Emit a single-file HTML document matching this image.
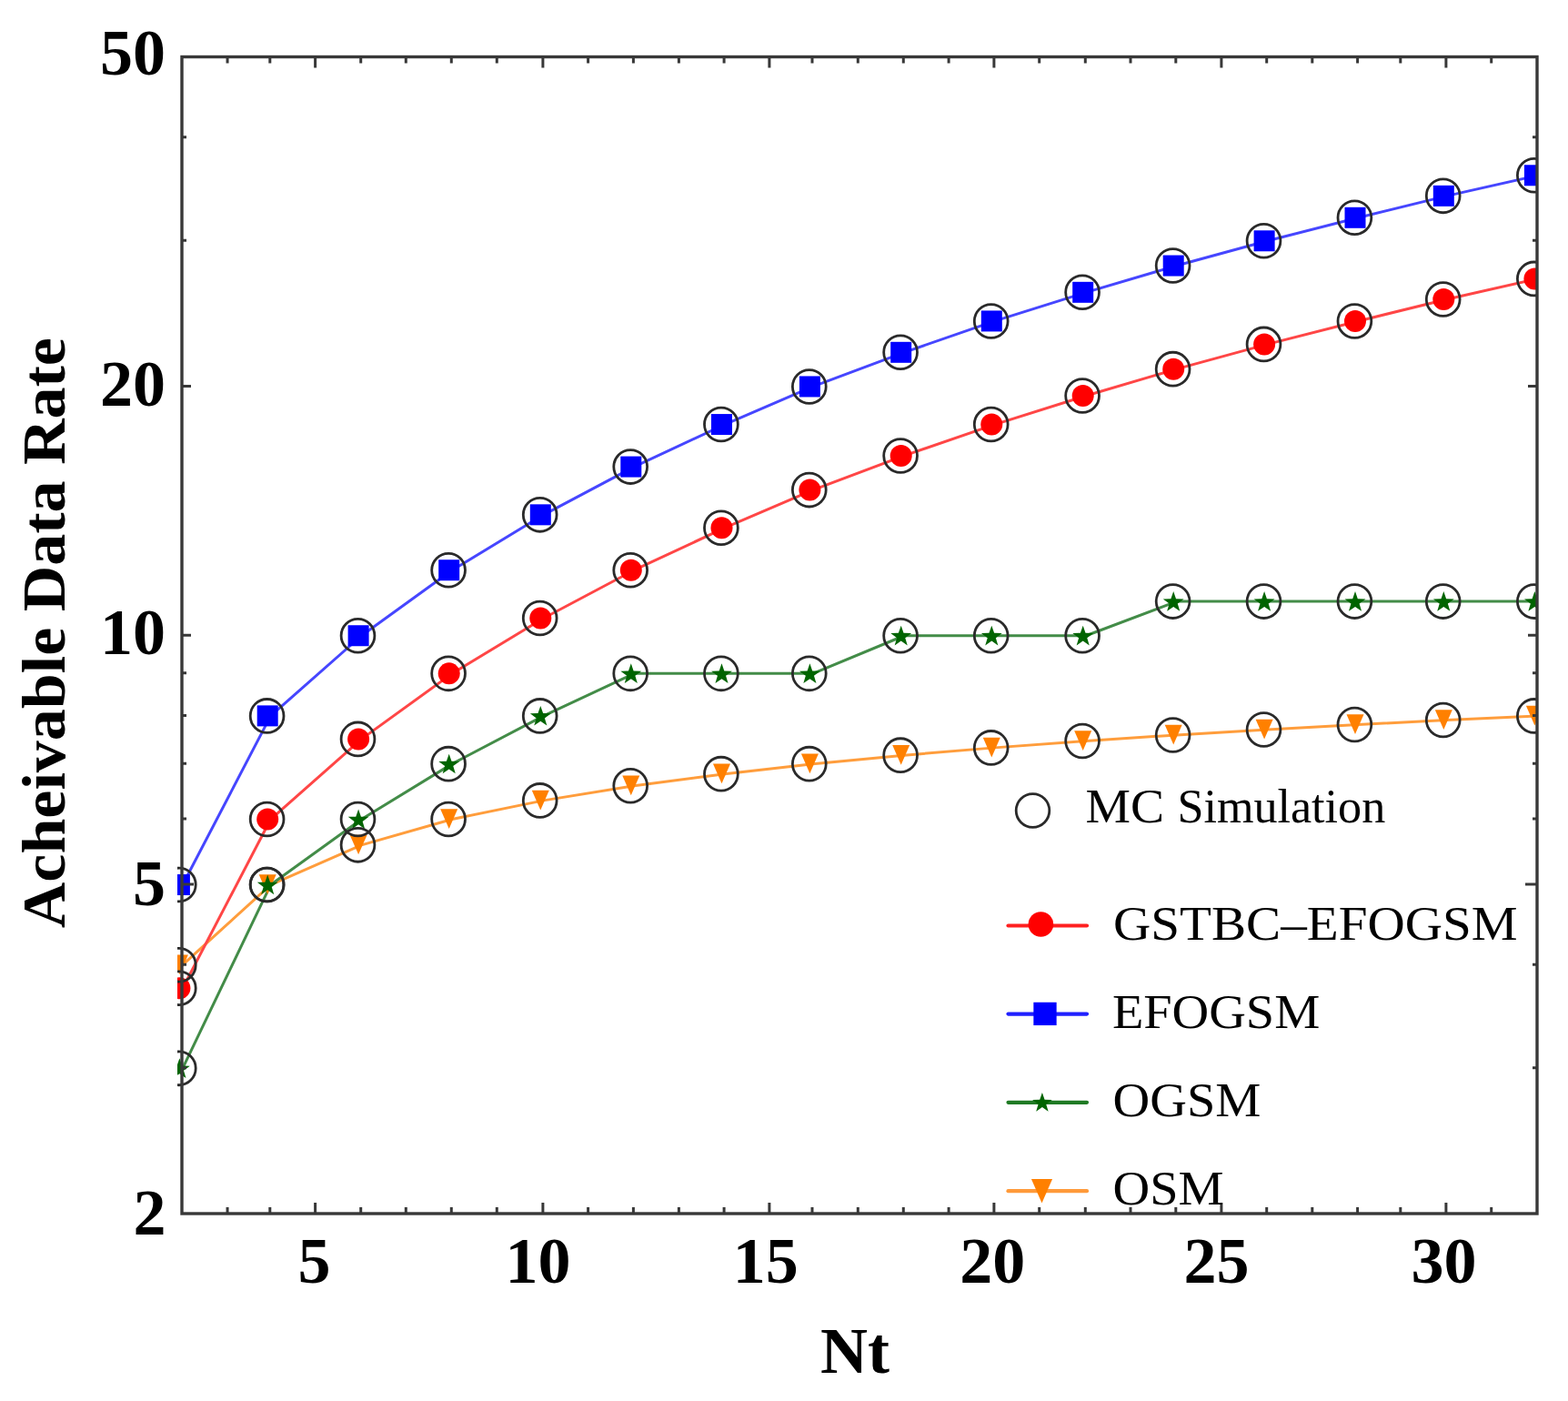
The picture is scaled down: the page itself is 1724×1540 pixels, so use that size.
<!DOCTYPE html><html><head><meta charset="utf-8"><title>Acheivable Data Rate vs Nt</title><style>html,body{margin:0;padding:0;background:#fff;overflow:hidden;}svg{display:block;}text{font-family:"Liberation Serif","Times New Roman",serif;fill:#000;}</style></head><body>
<svg width="1724" height="1540" viewBox="0 0 1724 1540">
<rect x="0" y="0" width="1724" height="1540" fill="#fff"/>
<defs><clipPath id="pc"><rect x="195" y="40" width="1495" height="1310"/></clipPath></defs>
<g clip-path="url(#pc)">
<polyline points="200.80,1060.70 297.60,972.55 397.50,928.85 497.10,900.53 597.70,879.89 697.20,863.79 796.90,850.66 893.80,839.64 994.10,830.17 1093.70,821.88 1194.10,814.53 1293.60,807.94 1393.50,801.97 1493.40,796.52 1590.70,791.52 1690.80,786.89" fill="none" stroke="#ff9d3c" stroke-width="3.0" stroke-linejoin="round"/>
<polyline points="200.80,1174.34 297.60,972.55 397.50,900.53 497.10,839.64 597.70,786.89 697.20,740.37 796.90,740.37 893.80,740.37 994.10,698.75 1093.70,698.75 1194.10,698.75 1293.60,661.10 1393.50,661.10 1493.40,661.10 1590.70,661.10 1690.80,661.10" fill="none" stroke="#438c48" stroke-width="3.0" stroke-linejoin="round"/>
<polyline points="200.80,1086.19 297.60,900.53 397.50,812.39 497.10,740.37 597.70,679.48 697.20,626.73 796.90,580.20 893.80,538.59 994.10,500.94 1093.70,466.57 1194.10,434.95 1293.60,405.67 1393.50,378.42 1493.40,352.93 1590.70,328.98 1690.80,306.40" fill="none" stroke="#ff4646" stroke-width="3.0" stroke-linejoin="round"/>
<polyline points="200.80,972.55 297.60,786.89 397.50,698.75 497.10,626.73 597.70,565.84 697.20,513.09 796.90,466.57 893.80,424.95 994.10,387.30 1093.70,352.93 1194.10,321.31 1293.60,292.04 1393.50,264.78 1493.40,239.29 1590.70,215.34 1690.80,192.76" fill="none" stroke="#4646ff" stroke-width="3.0" stroke-linejoin="round"/>
<polygon points="187.90,1049.50 206.90,1049.50 197.40,1071.20" fill="#ff8000"/>
<polygon points="284.70,961.35 303.70,961.35 294.20,983.05" fill="#ff8000"/>
<polygon points="384.60,917.65 403.60,917.65 394.10,939.35" fill="#ff8000"/>
<polygon points="484.20,889.33 503.20,889.33 493.70,911.03" fill="#ff8000"/>
<polygon points="584.80,868.69 603.80,868.69 594.30,890.39" fill="#ff8000"/>
<polygon points="684.30,852.59 703.30,852.59 693.80,874.29" fill="#ff8000"/>
<polygon points="784.00,839.46 803.00,839.46 793.50,861.16" fill="#ff8000"/>
<polygon points="880.90,828.44 899.90,828.44 890.40,850.14" fill="#ff8000"/>
<polygon points="981.20,818.97 1000.20,818.97 990.70,840.67" fill="#ff8000"/>
<polygon points="1080.80,810.68 1099.80,810.68 1090.30,832.38" fill="#ff8000"/>
<polygon points="1181.20,803.33 1200.20,803.33 1190.70,825.03" fill="#ff8000"/>
<polygon points="1280.70,796.74 1299.70,796.74 1290.20,818.44" fill="#ff8000"/>
<polygon points="1380.60,790.77 1399.60,790.77 1390.10,812.47" fill="#ff8000"/>
<polygon points="1480.50,785.32 1499.50,785.32 1490.00,807.02" fill="#ff8000"/>
<polygon points="1577.80,780.32 1596.80,780.32 1587.30,802.02" fill="#ff8000"/>
<polygon points="1677.90,775.69 1696.90,775.69 1687.40,797.39" fill="#ff8000"/>
<polygon points="197.40,1163.34 200.22,1171.45 208.81,1171.63 201.97,1176.82 204.45,1185.04 197.40,1180.14 190.35,1185.04 192.83,1176.82 185.99,1171.63 194.58,1171.45" fill="#006400"/>
<polygon points="294.20,961.55 297.02,969.67 305.61,969.84 298.77,975.04 301.25,983.26 294.20,978.35 287.15,983.26 289.63,975.04 282.79,969.84 291.38,969.67" fill="#006400"/>
<polygon points="394.10,889.53 396.92,897.65 405.51,897.82 398.67,903.02 401.15,911.24 394.10,906.33 387.05,911.24 389.53,903.02 382.69,897.82 391.28,897.65" fill="#006400"/>
<polygon points="493.70,828.64 496.52,836.76 505.11,836.93 498.27,842.12 500.75,850.35 493.70,845.44 486.65,850.35 489.13,842.12 482.29,836.93 490.88,836.76" fill="#006400"/>
<polygon points="594.30,775.89 597.12,784.01 605.71,784.19 598.87,789.38 601.35,797.60 594.30,792.69 587.25,797.60 589.73,789.38 582.89,784.19 591.48,784.01" fill="#006400"/>
<polygon points="693.80,729.37 696.62,737.49 705.21,737.66 698.37,742.85 700.85,751.08 693.80,746.17 686.75,751.08 689.23,742.85 682.39,737.66 690.98,737.49" fill="#006400"/>
<polygon points="793.50,729.37 796.32,737.49 804.91,737.66 798.07,742.85 800.55,751.08 793.50,746.17 786.45,751.08 788.93,742.85 782.09,737.66 790.68,737.49" fill="#006400"/>
<polygon points="890.40,729.37 893.22,737.49 901.81,737.66 894.97,742.85 897.45,751.08 890.40,746.17 883.35,751.08 885.83,742.85 878.99,737.66 887.58,737.49" fill="#006400"/>
<polygon points="990.70,687.75 993.52,695.87 1002.11,696.04 995.27,701.23 997.75,709.46 990.70,704.55 983.65,709.46 986.13,701.23 979.29,696.04 987.88,695.87" fill="#006400"/>
<polygon points="1090.30,687.75 1093.12,695.87 1101.71,696.04 1094.87,701.23 1097.35,709.46 1090.30,704.55 1083.25,709.46 1085.73,701.23 1078.89,696.04 1087.48,695.87" fill="#006400"/>
<polygon points="1190.70,687.75 1193.52,695.87 1202.11,696.04 1195.27,701.23 1197.75,709.46 1190.70,704.55 1183.65,709.46 1186.13,701.23 1179.29,696.04 1187.88,695.87" fill="#006400"/>
<polygon points="1290.20,650.10 1293.02,658.22 1301.61,658.39 1294.77,663.58 1297.25,671.81 1290.20,666.90 1283.15,671.81 1285.63,663.58 1278.79,658.39 1287.38,658.22" fill="#006400"/>
<polygon points="1390.10,650.10 1392.92,658.22 1401.51,658.39 1394.67,663.58 1397.15,671.81 1390.10,666.90 1383.05,671.81 1385.53,663.58 1378.69,658.39 1387.28,658.22" fill="#006400"/>
<polygon points="1490.00,650.10 1492.82,658.22 1501.41,658.39 1494.57,663.58 1497.05,671.81 1490.00,666.90 1482.95,671.81 1485.43,663.58 1478.59,658.39 1487.18,658.22" fill="#006400"/>
<polygon points="1587.30,650.10 1590.12,658.22 1598.71,658.39 1591.87,663.58 1594.35,671.81 1587.30,666.90 1580.25,671.81 1582.73,663.58 1575.89,658.39 1584.48,658.22" fill="#006400"/>
<polygon points="1687.40,650.10 1690.22,658.22 1698.81,658.39 1691.97,663.58 1694.45,671.81 1687.40,666.90 1680.35,671.81 1682.83,663.58 1675.99,658.39 1684.58,658.22" fill="#006400"/>
<circle cx="197.40" cy="1086.19" r="12.00" fill="#ff0000"/>
<circle cx="294.20" cy="900.53" r="12.00" fill="#ff0000"/>
<circle cx="394.10" cy="812.39" r="12.00" fill="#ff0000"/>
<circle cx="493.70" cy="740.37" r="12.00" fill="#ff0000"/>
<circle cx="594.30" cy="679.48" r="12.00" fill="#ff0000"/>
<circle cx="693.80" cy="626.73" r="12.00" fill="#ff0000"/>
<circle cx="793.50" cy="580.20" r="12.00" fill="#ff0000"/>
<circle cx="890.40" cy="538.59" r="12.00" fill="#ff0000"/>
<circle cx="990.70" cy="500.94" r="12.00" fill="#ff0000"/>
<circle cx="1090.30" cy="466.57" r="12.00" fill="#ff0000"/>
<circle cx="1190.70" cy="434.95" r="12.00" fill="#ff0000"/>
<circle cx="1290.20" cy="405.67" r="12.00" fill="#ff0000"/>
<circle cx="1390.10" cy="378.42" r="12.00" fill="#ff0000"/>
<circle cx="1490.00" cy="352.93" r="12.00" fill="#ff0000"/>
<circle cx="1587.30" cy="328.98" r="12.00" fill="#ff0000"/>
<circle cx="1687.40" cy="306.40" r="12.00" fill="#ff0000"/>
<rect x="185.90" y="961.05" width="23.00" height="23.00" fill="#0000ff"/>
<rect x="282.70" y="775.39" width="23.00" height="23.00" fill="#0000ff"/>
<rect x="382.60" y="687.25" width="23.00" height="23.00" fill="#0000ff"/>
<rect x="482.20" y="615.23" width="23.00" height="23.00" fill="#0000ff"/>
<rect x="582.80" y="554.34" width="23.00" height="23.00" fill="#0000ff"/>
<rect x="682.30" y="501.59" width="23.00" height="23.00" fill="#0000ff"/>
<rect x="782.00" y="455.07" width="23.00" height="23.00" fill="#0000ff"/>
<rect x="878.90" y="413.45" width="23.00" height="23.00" fill="#0000ff"/>
<rect x="979.20" y="375.80" width="23.00" height="23.00" fill="#0000ff"/>
<rect x="1078.80" y="341.43" width="23.00" height="23.00" fill="#0000ff"/>
<rect x="1179.20" y="309.81" width="23.00" height="23.00" fill="#0000ff"/>
<rect x="1278.70" y="280.54" width="23.00" height="23.00" fill="#0000ff"/>
<rect x="1378.60" y="253.28" width="23.00" height="23.00" fill="#0000ff"/>
<rect x="1478.50" y="227.79" width="23.00" height="23.00" fill="#0000ff"/>
<rect x="1575.80" y="203.84" width="23.00" height="23.00" fill="#0000ff"/>
<rect x="1675.90" y="181.26" width="23.00" height="23.00" fill="#0000ff"/>
<circle cx="196.80" cy="1060.70" r="18.4" fill="none" stroke="#2a2a2a" stroke-width="2.8"/>
<circle cx="293.60" cy="972.55" r="18.4" fill="none" stroke="#2a2a2a" stroke-width="2.8"/>
<circle cx="393.50" cy="928.85" r="18.4" fill="none" stroke="#2a2a2a" stroke-width="2.8"/>
<circle cx="493.10" cy="900.53" r="18.4" fill="none" stroke="#2a2a2a" stroke-width="2.8"/>
<circle cx="593.70" cy="879.89" r="18.4" fill="none" stroke="#2a2a2a" stroke-width="2.8"/>
<circle cx="693.20" cy="863.79" r="18.4" fill="none" stroke="#2a2a2a" stroke-width="2.8"/>
<circle cx="792.90" cy="850.66" r="18.4" fill="none" stroke="#2a2a2a" stroke-width="2.8"/>
<circle cx="889.80" cy="839.64" r="18.4" fill="none" stroke="#2a2a2a" stroke-width="2.8"/>
<circle cx="990.10" cy="830.17" r="18.4" fill="none" stroke="#2a2a2a" stroke-width="2.8"/>
<circle cx="1089.70" cy="821.88" r="18.4" fill="none" stroke="#2a2a2a" stroke-width="2.8"/>
<circle cx="1190.10" cy="814.53" r="18.4" fill="none" stroke="#2a2a2a" stroke-width="2.8"/>
<circle cx="1289.60" cy="807.94" r="18.4" fill="none" stroke="#2a2a2a" stroke-width="2.8"/>
<circle cx="1389.50" cy="801.97" r="18.4" fill="none" stroke="#2a2a2a" stroke-width="2.8"/>
<circle cx="1489.40" cy="796.52" r="18.4" fill="none" stroke="#2a2a2a" stroke-width="2.8"/>
<circle cx="1586.70" cy="791.52" r="18.4" fill="none" stroke="#2a2a2a" stroke-width="2.8"/>
<circle cx="1686.80" cy="786.89" r="18.4" fill="none" stroke="#2a2a2a" stroke-width="2.8"/>
<circle cx="196.80" cy="1174.34" r="18.4" fill="none" stroke="#2a2a2a" stroke-width="2.8"/>
<circle cx="293.60" cy="972.55" r="18.4" fill="none" stroke="#2a2a2a" stroke-width="2.8"/>
<circle cx="393.50" cy="900.53" r="18.4" fill="none" stroke="#2a2a2a" stroke-width="2.8"/>
<circle cx="493.10" cy="839.64" r="18.4" fill="none" stroke="#2a2a2a" stroke-width="2.8"/>
<circle cx="593.70" cy="786.89" r="18.4" fill="none" stroke="#2a2a2a" stroke-width="2.8"/>
<circle cx="693.20" cy="740.37" r="18.4" fill="none" stroke="#2a2a2a" stroke-width="2.8"/>
<circle cx="792.90" cy="740.37" r="18.4" fill="none" stroke="#2a2a2a" stroke-width="2.8"/>
<circle cx="889.80" cy="740.37" r="18.4" fill="none" stroke="#2a2a2a" stroke-width="2.8"/>
<circle cx="990.10" cy="698.75" r="18.4" fill="none" stroke="#2a2a2a" stroke-width="2.8"/>
<circle cx="1089.70" cy="698.75" r="18.4" fill="none" stroke="#2a2a2a" stroke-width="2.8"/>
<circle cx="1190.10" cy="698.75" r="18.4" fill="none" stroke="#2a2a2a" stroke-width="2.8"/>
<circle cx="1289.60" cy="661.10" r="18.4" fill="none" stroke="#2a2a2a" stroke-width="2.8"/>
<circle cx="1389.50" cy="661.10" r="18.4" fill="none" stroke="#2a2a2a" stroke-width="2.8"/>
<circle cx="1489.40" cy="661.10" r="18.4" fill="none" stroke="#2a2a2a" stroke-width="2.8"/>
<circle cx="1586.70" cy="661.10" r="18.4" fill="none" stroke="#2a2a2a" stroke-width="2.8"/>
<circle cx="1686.80" cy="661.10" r="18.4" fill="none" stroke="#2a2a2a" stroke-width="2.8"/>
<circle cx="196.80" cy="1086.19" r="18.4" fill="none" stroke="#2a2a2a" stroke-width="2.8"/>
<circle cx="293.60" cy="900.53" r="18.4" fill="none" stroke="#2a2a2a" stroke-width="2.8"/>
<circle cx="393.50" cy="812.39" r="18.4" fill="none" stroke="#2a2a2a" stroke-width="2.8"/>
<circle cx="493.10" cy="740.37" r="18.4" fill="none" stroke="#2a2a2a" stroke-width="2.8"/>
<circle cx="593.70" cy="679.48" r="18.4" fill="none" stroke="#2a2a2a" stroke-width="2.8"/>
<circle cx="693.20" cy="626.73" r="18.4" fill="none" stroke="#2a2a2a" stroke-width="2.8"/>
<circle cx="792.90" cy="580.20" r="18.4" fill="none" stroke="#2a2a2a" stroke-width="2.8"/>
<circle cx="889.80" cy="538.59" r="18.4" fill="none" stroke="#2a2a2a" stroke-width="2.8"/>
<circle cx="990.10" cy="500.94" r="18.4" fill="none" stroke="#2a2a2a" stroke-width="2.8"/>
<circle cx="1089.70" cy="466.57" r="18.4" fill="none" stroke="#2a2a2a" stroke-width="2.8"/>
<circle cx="1190.10" cy="434.95" r="18.4" fill="none" stroke="#2a2a2a" stroke-width="2.8"/>
<circle cx="1289.60" cy="405.67" r="18.4" fill="none" stroke="#2a2a2a" stroke-width="2.8"/>
<circle cx="1389.50" cy="378.42" r="18.4" fill="none" stroke="#2a2a2a" stroke-width="2.8"/>
<circle cx="1489.40" cy="352.93" r="18.4" fill="none" stroke="#2a2a2a" stroke-width="2.8"/>
<circle cx="1586.70" cy="328.98" r="18.4" fill="none" stroke="#2a2a2a" stroke-width="2.8"/>
<circle cx="1686.80" cy="306.40" r="18.4" fill="none" stroke="#2a2a2a" stroke-width="2.8"/>
<circle cx="196.80" cy="972.55" r="18.4" fill="none" stroke="#2a2a2a" stroke-width="2.8"/>
<circle cx="293.60" cy="786.89" r="18.4" fill="none" stroke="#2a2a2a" stroke-width="2.8"/>
<circle cx="393.50" cy="698.75" r="18.4" fill="none" stroke="#2a2a2a" stroke-width="2.8"/>
<circle cx="493.10" cy="626.73" r="18.4" fill="none" stroke="#2a2a2a" stroke-width="2.8"/>
<circle cx="593.70" cy="565.84" r="18.4" fill="none" stroke="#2a2a2a" stroke-width="2.8"/>
<circle cx="693.20" cy="513.09" r="18.4" fill="none" stroke="#2a2a2a" stroke-width="2.8"/>
<circle cx="792.90" cy="466.57" r="18.4" fill="none" stroke="#2a2a2a" stroke-width="2.8"/>
<circle cx="889.80" cy="424.95" r="18.4" fill="none" stroke="#2a2a2a" stroke-width="2.8"/>
<circle cx="990.10" cy="387.30" r="18.4" fill="none" stroke="#2a2a2a" stroke-width="2.8"/>
<circle cx="1089.70" cy="352.93" r="18.4" fill="none" stroke="#2a2a2a" stroke-width="2.8"/>
<circle cx="1190.10" cy="321.31" r="18.4" fill="none" stroke="#2a2a2a" stroke-width="2.8"/>
<circle cx="1289.60" cy="292.04" r="18.4" fill="none" stroke="#2a2a2a" stroke-width="2.8"/>
<circle cx="1389.50" cy="264.78" r="18.4" fill="none" stroke="#2a2a2a" stroke-width="2.8"/>
<circle cx="1489.40" cy="239.29" r="18.4" fill="none" stroke="#2a2a2a" stroke-width="2.8"/>
<circle cx="1586.70" cy="215.34" r="18.4" fill="none" stroke="#2a2a2a" stroke-width="2.8"/>
<circle cx="1686.80" cy="192.76" r="18.4" fill="none" stroke="#2a2a2a" stroke-width="2.8"/>
</g>
<path d="M250.05,1334.00V1327.00M250.05,62.50V69.50M296.80,1334.00V1327.00M296.80,62.50V69.50M346.60,1334.00V1322.00M346.60,62.50V74.50M396.70,1334.00V1327.00M396.70,62.50V69.50M446.30,1334.00V1327.00M446.30,62.50V69.50M496.30,1334.00V1327.00M496.30,62.50V69.50M546.30,1334.00V1327.00M546.30,62.50V69.50M596.90,1334.00V1322.00M596.90,62.50V74.50M646.60,1334.00V1327.00M646.60,62.50V69.50M696.40,1334.00V1327.00M696.40,62.50V69.50M746.40,1334.00V1327.00M746.40,62.50V69.50M796.10,1334.00V1327.00M796.10,62.50V69.50M845.90,1334.00V1322.00M845.90,62.50V74.50M893.00,1334.00V1327.00M893.00,62.50V69.50M943.30,1334.00V1327.00M943.30,62.50V69.50M993.30,1334.00V1327.00M993.30,62.50V69.50M1043.10,1334.00V1327.00M1043.10,62.50V69.50M1092.90,1334.00V1322.00M1092.90,62.50V74.50M1142.70,1334.00V1327.00M1142.70,62.50V69.50M1193.30,1334.00V1327.00M1193.30,62.50V69.50M1243.00,1334.00V1327.00M1243.00,62.50V69.50M1292.80,1334.00V1327.00M1292.80,62.50V69.50M1342.90,1334.00V1322.00M1342.90,62.50V74.50M1392.70,1334.00V1327.00M1392.70,62.50V69.50M1442.80,1334.00V1327.00M1442.80,62.50V69.50M1492.60,1334.00V1327.00M1492.60,62.50V69.50M1539.80,1334.00V1327.00M1539.80,62.50V69.50M1589.90,1334.00V1322.00M1589.90,62.50V74.50M1639.70,1334.00V1327.00M1639.70,62.50V69.50M200.00,1173.84H205.00M1690.00,1173.84H1685.00M200.00,1060.20H205.00M1690.00,1060.20H1685.00M200.00,972.05H213.00M1690.00,972.05H1677.00M200.00,900.03H205.00M1690.00,900.03H1685.00M200.00,839.14H205.00M1690.00,839.14H1685.00M200.00,786.39H205.00M1690.00,786.39H1685.00M200.00,739.87H205.00M1690.00,739.87H1685.00M200.00,698.25H210.00M1690.00,698.25H1680.00M200.00,424.45H210.00M1690.00,424.45H1680.00M200.00,264.28H205.00M1690.00,264.28H1685.00M200.00,150.64H205.00M1690.00,150.64H1685.00" stroke="#383838" stroke-width="3" fill="none"/>
<rect x="200.0" y="62.5" width="1490.0" height="1271.5" fill="none" stroke="#383838" stroke-width="3.4"/>
<text x="327.48" y="1410.30" font-size="72" font-weight="bold">5</text>
<text x="555.49" y="1410.30" font-size="72" font-weight="bold">10</text>
<text x="805.74" y="1410.30" font-size="72" font-weight="bold">15</text>
<text x="1055.16" y="1410.30" font-size="72" font-weight="bold">20</text>
<text x="1301.61" y="1410.30" font-size="72" font-weight="bold">25</text>
<text x="1551.42" y="1410.30" font-size="72" font-weight="bold">30</text>
<text x="110.04" y="81.90" font-size="72" font-weight="bold">50</text>
<text x="110.04" y="446.10" font-size="72" font-weight="bold">20</text>
<text x="110.04" y="719.40" font-size="72" font-weight="bold">10</text>
<text x="145.94" y="995.40" font-size="72" font-weight="bold">5</text>
<text x="146.39" y="1357.40" font-size="72" font-weight="bold">2</text>
<text x="901.99" y="1508.80" font-size="72" font-weight="bold">Nt</text>
<text transform="translate(71,1020.18) rotate(-90) scale(1.0446,1)" font-size="67" font-weight="bold">Acheivable Data Rate</text>
<circle cx="1135.5" cy="891" r="18.3" fill="none" stroke="#2a2a2a" stroke-width="2.8"/>
<text transform="translate(1193.60,904.20) scale(1.0399,1)" font-size="53.5">MC</text>
<text transform="translate(1294.41,904.20) scale(0.9747,1)" font-size="53.5">Simulation</text>
<line x1="1108.5" y1="1017.5" x2="1195" y2="1017.5" stroke="#ff2020" stroke-width="4.2" stroke-linecap="round"/>
<circle cx="1144.40" cy="1016.00" r="13.80" fill="#ff0000"/>
<text transform="translate(1224.06,1033.20) scale(1.0682,1)" font-size="53.5">GSTBC–EFOGSM</text>
<line x1="1108.5" y1="1114.6" x2="1195" y2="1114.6" stroke="#2020ff" stroke-width="4.2" stroke-linecap="round"/>
<rect x="1136.35" y="1101.75" width="25.30" height="25.30" fill="#0000ff"/>
<text transform="translate(1222.88,1130.20) scale(1.0523,1)" font-size="53.5">EFOGSM</text>
<line x1="1108.5" y1="1211.8" x2="1195" y2="1211.8" stroke="#1f7a24" stroke-width="4.2" stroke-linecap="round"/>
<polygon points="1145.90,1201.05 1148.58,1208.76 1156.74,1208.93 1150.24,1213.86 1152.60,1221.67 1145.90,1217.01 1139.20,1221.67 1141.56,1213.86 1135.06,1208.93 1143.22,1208.76" fill="#006400"/>
<text transform="translate(1223.59,1227.20) scale(1.0535,1)" font-size="53.5">OGSM</text>
<line x1="1108.5" y1="1309.2" x2="1195" y2="1309.2" stroke="#ff9a3a" stroke-width="4.2" stroke-linecap="round"/>
<polygon points="1133.91,1295.94 1157.09,1295.94 1145.50,1322.41" fill="#ff8000"/>
<text transform="translate(1223.59,1324.00) scale(1.0526,1)" font-size="53.5">OSM</text>
</svg></body></html>
